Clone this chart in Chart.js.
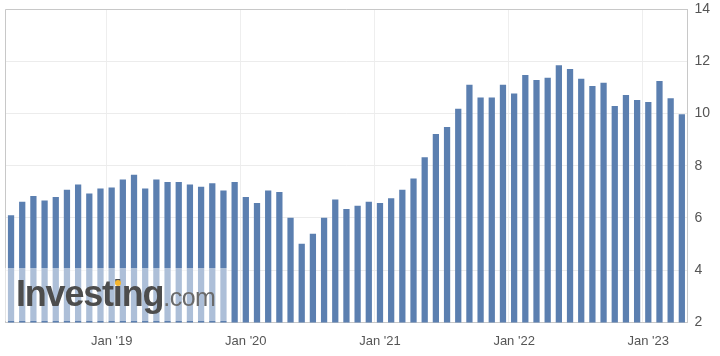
<!DOCTYPE html>
<html>
<head>
<meta charset="utf-8">
<script src="https://cdn.jsdelivr.net/npm/chart.js@4.4.1/dist/chart.umd.min.js"></script>
<style>
  html, body { margin: 0; padding: 0; background: #fff; }
  #wrap { position: relative; width: 720px; height: 356px; }
  #wm { position: absolute; left: 5px; top: 268px; width: 223px; height: 53px;
        background: rgba(255,255,255,0.5); pointer-events: none; }
  #wm .t { position: absolute; left: 11px; top: 5px; white-space: nowrap;
           font-family: "Liberation Sans", Arial, sans-serif; }
  #wm .b { font-size: 36px; font-weight: bold; color: #4d4d4d; letter-spacing: -1.2px; }
  #wm .c { font-size: 25px; color: #6b6b6b; letter-spacing: -0.5px; }
  #dot { position: absolute; left: 110px; top: 12px; width: 6px; height: 6px; border-radius: 3px; background: #f5b52e; }
</style>
</head>
<body>
<div id="wrap">
  <canvas id="c" width="720" height="356"></canvas>
  <div id="wm"><div class="t"><span class="b">Investing</span><span class="c">.com</span></div><div id="dot"></div></div>
</div>
<script>
const categories = [
  "2018-04","2018-05","2018-06","2018-07","2018-08","2018-09","2018-10","2018-11","2018-12",
  "2019-01","2019-02","2019-03","2019-04","2019-05","2019-06","2019-07","2019-08","2019-09","2019-10","2019-11","2019-12",
  "2020-01","2020-02","2020-03","2020-04","2020-05","2020-06","2020-07","2020-08","2020-09","2020-10","2020-11","2020-12",
  "2021-01","2021-02","2021-03","2021-04","2021-05","2021-06","2021-07","2021-08","2021-09","2021-10","2021-11","2021-12",
  "2022-01","2022-02","2022-03","2022-04","2022-05","2022-06","2022-07","2022-08","2022-09","2022-10","2022-11","2022-12",
  "2023-01","2023-02","2023-03","2023-04"
];
const values = [
  6.10, 6.62, 6.84, 6.67, 6.80, 7.08, 7.28, 6.94, 7.13,
  7.17, 7.47, 7.65, 7.13, 7.47, 7.38, 7.38, 7.28, 7.19, 7.33, 7.05, 7.38,
  6.80, 6.57, 7.05, 6.99, 6.01, 5.01, 5.39, 6.01, 6.71, 6.34, 6.47, 6.62,
  6.57, 6.75, 7.08, 7.51, 8.32, 9.21, 9.48, 10.18, 11.10, 10.61, 10.61, 11.10,
  10.76, 11.47, 11.28, 11.37, 11.85, 11.70, 11.33, 11.05, 11.18, 10.29, 10.71, 10.52,
  10.44, 11.24, 10.58, 9.97
];
const xTickLabels = { "2019-01": "Jan '19", "2020-01": "Jan '20", "2021-01": "Jan '21", "2022-01": "Jan '22", "2023-01": "Jan '23" };
const yMin = 2, yMax = 14, yStep = 2;

const frame = {
  id: 'frame',
  afterDraw(chart) {
    const a = chart.chartArea, ctx = chart.ctx;
    ctx.save();
    ctx.strokeStyle = '#c8c8c8';
    ctx.lineWidth = 1;
    ctx.beginPath();
    ctx.moveTo(Math.round(a.left) + 0.5, Math.round(a.bottom));
    ctx.lineTo(Math.round(a.left) + 0.5, Math.round(a.top) + 0.5);
    ctx.lineTo(Math.round(a.right), Math.round(a.top) + 0.5);
    ctx.stroke();
    ctx.restore();
  }
};

new Chart(document.getElementById('c'), {
  type: 'bar',
  data: {
    labels: categories,
    datasets: [{
      data: values,
      backgroundColor: '#5b7fb0',
      borderWidth: 0,
      barPercentage: 0.56,
      categoryPercentage: 1.0
    }]
  },
  options: {
    responsive: false,
    animation: false,
    layout: { padding: { left: 5, top: 9, right: 3, bottom: -4 } },
    plugins: { legend: { display: false }, tooltip: { enabled: false } },
    scales: {
      x: {
        offset: true,
        grid: {
          offset: true,
          drawTicks: false,
          color: (ctx) => (xTickLabels[categories[ctx.index]] ? '#eeeeee' : 'rgba(0,0,0,0)')
        },
        border: { display: true, color: '#c8c8c8' },
        ticks: {
          autoSkip: false,
          maxRotation: 0,
          padding: 11,
          color: '#555',
          font: { family: '"Liberation Sans", Arial, sans-serif', size: 13 },
          callback: (v, i) => xTickLabels[categories[i]] || ''
        }
      },
      y: {
        position: 'right',
        min: yMin, max: yMax,
        afterFit(scale) { scale.paddingTop = 0; scale.paddingBottom = 0; },
        grid: { drawTicks: false, color: '#ececec' },
        border: { display: true, color: '#c8c8c8' },
        ticks: {
          stepSize: yStep,
          padding: 7,
          color: '#555',
          font: { family: '"Liberation Sans", Arial, sans-serif', size: 14 }
        }
      }
    }
  },
  plugins: [frame]
});
</script>
</body>
</html>
